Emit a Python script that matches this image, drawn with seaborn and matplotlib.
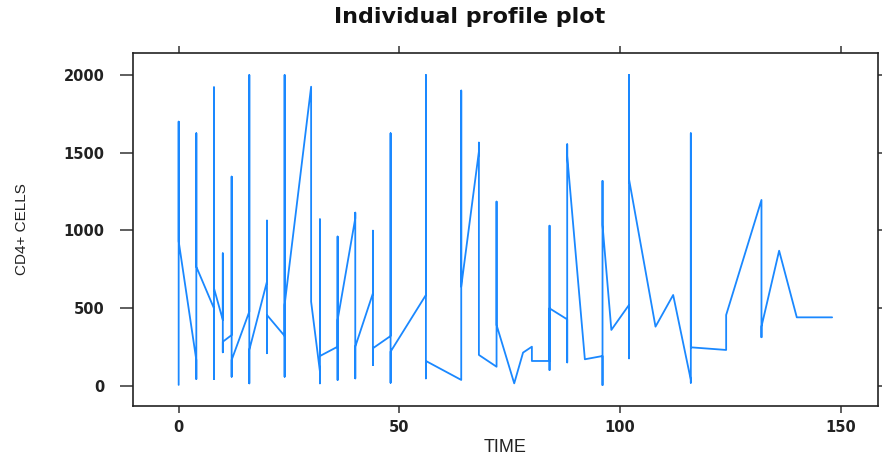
import matplotlib
matplotlib.use("Agg")
import matplotlib.pyplot as plt
import pandas as pd
import seaborn as sns

# visit times (weeks) and the CD4+ counts recorded at each visit,
# in the order the profile line passes through them
visit_time = [0, 4, 8, 10, 12, 16, 20, 24, 30, 32, 36, 40, 44, 48, 56, 64,
              68, 72, 76, 78, 80, 84, 88, 92, 96, 98, 102, 108, 112, 116,
              124, 132, 136, 140, 148]
cd4_at_visit = [
    [5, 1700, 930], [165, 43, 1625, 766], [498, 43, 1921, 627],
    [423, 852, 215, 283], [326, 1346, 58, 165], [477, 2000, 15, 230],
    [670, 1063, 209, 455], [320, 2000, 58, 520], [1925, 541],
    [90, 15, 1071, 191], [251, 960, 37, 423], [1078, 1114, 47, 251],
    [595, 998, 133, 241], [320, 1625, 19, 219], [584, 2000, 47, 159],
    [37, 1900, 638], [1507, 1565, 198], [122, 1185, 391], [15], [213],
    [251, 159], [159, 1030, 101, 498], [427, 150, 1554, 1480], [170],
    [191, 4, 1318, 1035], [359], [520, 176, 2000, 1330], [380], [584],
    [37, 19, 1625, 247], [230, 455], [1196, 312, 380], [869], [440], [440],
]

x_ticks = [0, 50, 100, 150]
y_ticks = [0, 500, 1000, 1500, 2000]


def main():
    rows = []
    for t, vals in zip(visit_time, cd4_at_visit):
        for v in vals:
            rows.append({"TIME": t, "CD4": v})
    df = pd.DataFrame(rows)

    sns.set_style("ticks")
    plt.rcParams["font.family"] = ["DejaVu Sans"]

    fig = plt.figure(figsize=(8.82, 4.59), dpi=100)
    ax = fig.add_axes([0.1505, 0.1161, 0.845, 0.7677])

    sns.lineplot(data=df, x="TIME", y="CD4", sort=False, estimator=None,
                 color="#1a88ff", linewidth=1.3, ax=ax)

    ax.set_xlim(-10.4, 158.4)
    ax.set_ylim(-129, 2140)
    ax.set_xticks(x_ticks)
    ax.set_yticks(y_ticks)

    for s in ax.spines.values():
        s.set_visible(True)
        s.set_color("#222222")
        s.set_linewidth(1.2)

    ax.tick_params(axis="both", direction="out", colors="#333333", width=1.1)
    ax.tick_params(axis="x", top=True, length=4.8, pad=5.3, labelsize=10.5)
    ax.tick_params(axis="y", right=True, length=9.5, pad=10.8, labelsize=10.5)
    for lab in ax.get_xticklabels() + ax.get_yticklabels():
        lab.set_fontweight("bold")
        lab.set_color("#222222")

    ax.set_xlabel("TIME", fontsize=13, family=["Liberation Sans", "DejaVu Sans"],
                  color="#222222")
    ax.xaxis.label.set_va("center")
    ax.xaxis.set_label_coords(0.5, -0.120)
    ax.set_ylabel("CD4+ CELLS", fontsize=11, family=["Liberation Sans", "DejaVu Sans"],
                  color="#222222")
    ax.yaxis.label.set_va("center")
    ax.yaxis.set_label_coords(-0.1485, 0.501)

    fig.text(470 / 882, 1 - 23 / 459, "Individual profile plot", ha="center",
             va="baseline", fontsize=16, fontweight="bold", color="#111111")

    fig.savefig("out.png", dpi=100)
    plt.close(fig)


if __name__ == "__main__":
    main()
